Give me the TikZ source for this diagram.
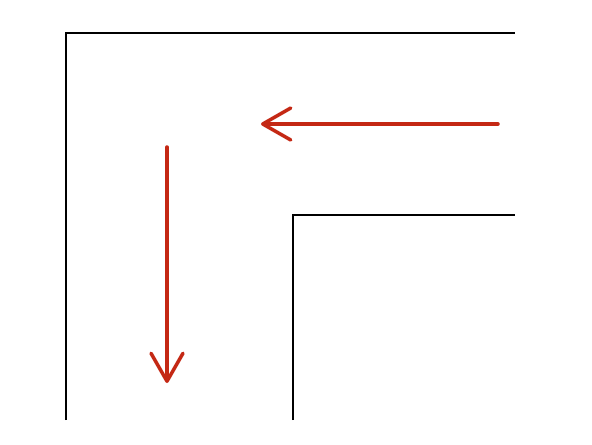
\documentclass[tikz,border=0pt]{standalone}
\usetikzlibrary{arrows.meta}
\definecolor{arrowred}{RGB}{196,40,20}
\tikzset{
    wall/.style={line width=0.75pt, black},
    flow/.style={line width=2pt, arrowred, line cap=round,
        -{Straight Barb[length=0.56cm, width=0.64cm, line width=2pt, round]}}
}

\begin{document}
\begin{tikzpicture}[x=0.02cm, y=-0.02cm]
    \useasboundingbox (0, 0) rectangle (592, 444);
    \coordinate (outerbottom) at (66, 420);
    \coordinate (outercorner) at (66, 33);
    \coordinate (outerend) at (515, 33);
    \coordinate (innerbottom) at (293, 420);
    \coordinate (innercorner) at (293, 215);
    \coordinate (innerend) at (515, 215);
    \draw[wall] (outerbottom) -- (outercorner) -- (outerend);
    \draw[wall] (innerbottom) -- (innercorner) -- (innerend);
    \coordinate (hstart) at (498, 124);
    \coordinate (hend) at (261, 124);
    \coordinate (vstart) at (167, 147);
    \coordinate (vend) at (167, 383);
    \draw[flow] (hstart) -- (hend);
    \draw[flow] (vstart) -- (vend);
\end{tikzpicture}
\end{document}
